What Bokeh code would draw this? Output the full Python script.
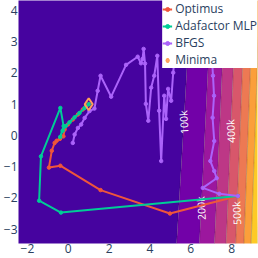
import numpy as np
from bokeh.plotting import figure
from bokeh.models import Range1d, Legend, LegendItem, ColumnDataSource
from bokeh.core.properties import value
from bokeh.embed import file_html
from bokeh.resources import INLINE

# ---------------- data ----------------
x_ticks = [-2, 0, 2, 4, 6, 8]
y_ticks = [-3, -2, -1, 0, 1, 2, 3, 4]

contour_levels = [0, 100000, 200000, 300000, 400000, 500000, 600000, 700000, 800000, 900000]
band_colors = ['#46039f', '#7201a8', '#9c179e', '#bd3786', '#d8576b',
               '#ed7953', '#fb9f3a', '#fdca26', '#f0f921']

label_levels = [100000, 400000, 200000, 500000]
label_texts = ["100k", "400k", "200k", "500k"]
label_y = [0.42, 0.14, -2.33, -2.49]

optimus_x = [8.31, 4.98, 1.58, -0.39, -0.95, -0.81, -0.67, -0.57, -0.41, -0.24, -0.18, -0.02, 0.22, 0.47, 0.71, 0.87, 1.0]
optimus_y = [-1.94, -2.50, -1.75, -0.97, -1.03, -0.49, -0.24, -0.17, -0.11, -0.03, 0.19, 0.35, 0.51, 0.67, 0.83, 0.93, 1.0]

adafactor_x = [8.31, -0.36, -1.43, -1.34, -0.39, -0.23, -0.40, -0.28, -0.13, 0.06, 0.31, 0.55, 0.80, 1.0]
adafactor_y = [-1.94, -2.47, -2.09, -0.67, 0.88, 0.30, -0.05, 0.15, 0.30, 0.42, 0.58, 0.72, 0.88, 1.0]

bfgs_x = [8.31, 7.40, 6.59, 7.27, 7.15, 6.96, 7.15, 7.07, 7.14, 7.09, 6.99, 5.28, 5.14, 5.04, 4.89, 4.79,
          4.70, 4.55, 4.45, 4.36, 4.21, 4.06, 3.92, 3.80, 3.76, 3.69, 3.64, 3.56, 3.40, 2.83, 2.10, 1.58,
          1.44, 1.28, 1.04, 0.80, 0.63, 0.47, 0.31, 0.22]
bfgs_y = [-1.94, -1.87, -1.68, -1.37, -1.14, -0.82, -0.18, 0.57, 1.27, 1.91, 3.03, 3.03, 2.01, 1.11, 1.49, 0.53,
          1.27, -0.82, 0.79, 2.55, 1.91, 1.53, 0.47, 1.01, 2.30, 2.77, 2.45, 2.31, 2.52, 2.26, 1.24, 1.91,
          1.43, 0.86, 0.78, 0.56, 0.35, 0.24, 0.03, -0.24]

minima_x = [1.0]
minima_y = [1.0]

# ---------------- surface (Rosenbrock) ----------------
def rosen(x, y):
    return (1 - x) ** 2 + 100 * (y - x ** 2) ** 2

gx = np.linspace(-2.6, 9.4, 360)
gy = np.linspace(-3.6, 4.45, 300)
GX, GY = np.meshgrid(gx, gy)
GZ = rosen(GX, GY)

def solve_x(level, y):
    lo, hi = 1.0, 12.0
    for _ in range(60):
        mid = 0.5 * (lo + hi)
        if rosen(mid, y) < level:
            lo = mid
        else:
            hi = mid
    return 0.5 * (lo + hi)

lab_x = [solve_x(L, yy) for L, yy in zip(label_levels, label_y)]
lab_angle = [90 + np.degrees(np.arctan((20.5 / 31.14) / (2 * xx))) for xx in lab_x]

# ---------------- figure ----------------
p = figure(width=258, height=258, output_backend="svg", toolbar_location=None,
           x_range=Range1d(-2.44, 9.27), y_range=Range1d(-3.46, 4.32),
           min_border_left=17, min_border_right=1, min_border_top=0, min_border_bottom=15)
p.styles = {"position": "absolute", "left": "0px", "top": "0px"}
p.outline_line_color = None
p.xgrid.visible = False
p.ygrid.visible = False
p.background_fill_color = "white"
p.border_fill_color = "white"

p.contour(gx, gy, GZ, contour_levels, fill_color=band_colors,
          line_color="#333333", line_alpha=0.5, line_width=0.5)

p.text(x=lab_x, y=label_y, text=label_texts, angle=lab_angle, angle_units="deg",
       text_align="center", text_baseline="middle", text_color="white",
       text_font=value("Open Sans"), text_font_size="10.5px")

items = []
for name, xs, ys, col in [("Optimus", optimus_x, optimus_y, "#EF553B"),
                          ("Adafactor MLP", adafactor_x, adafactor_y, "#00CC96"),
                          ("BFGS", bfgs_x, bfgs_y, "#AB63FA")]:
    src = ColumnDataSource(dict(x=xs, y=ys))
    lr = p.line("x", "y", source=src, line_color=col, line_width=2)
    sr = p.scatter("x", "y", source=src, marker="circle", size=3.5, fill_color=col, line_color=col)
    items.append(LegendItem(label=name, renderers=[lr, sr]))

mr = p.scatter(minima_x, minima_y, marker="diamond", size=12, fill_color=None,
               line_color="#FFA15A", line_width=2)
items.append(LegendItem(label="Minima", renderers=[mr]))

legend = Legend(items=items, location="top_right", margin=0, padding=3, spacing=0,
                glyph_width=10, glyph_height=16, label_height=16, label_standoff=3,
                label_text_font="Open Sans", label_text_font_size="12px",
                label_text_color="#2a3f5f", background_fill_color="white",
                background_fill_alpha=1.0, border_line_color=None)
p.add_layout(legend)

for ax, ticks in [(p.xaxis[0], x_ticks), (p.yaxis[0], y_ticks)]:
    ax.ticker = ticks
    ax.major_label_overrides = {t: (("\u2212" + str(-t)) if t < 0 else str(t)) for t in ticks}
    ax.axis_line_color = None
    ax.major_tick_line_color = None
    ax.minor_tick_line_color = None
    ax.major_tick_out = 0
    ax.major_tick_in = 0
    ax.minor_tick_out = 0
    ax.minor_tick_in = 0
    ax.major_label_text_color = "#2a3f5f"
    ax.major_label_text_font = "Open Sans"
    ax.major_label_text_font_size = "12px"
    ax.major_label_standoff = 1
p.xaxis[0].major_label_standoff = 0

open("out.html", "w").write(file_html(p, INLINE))
